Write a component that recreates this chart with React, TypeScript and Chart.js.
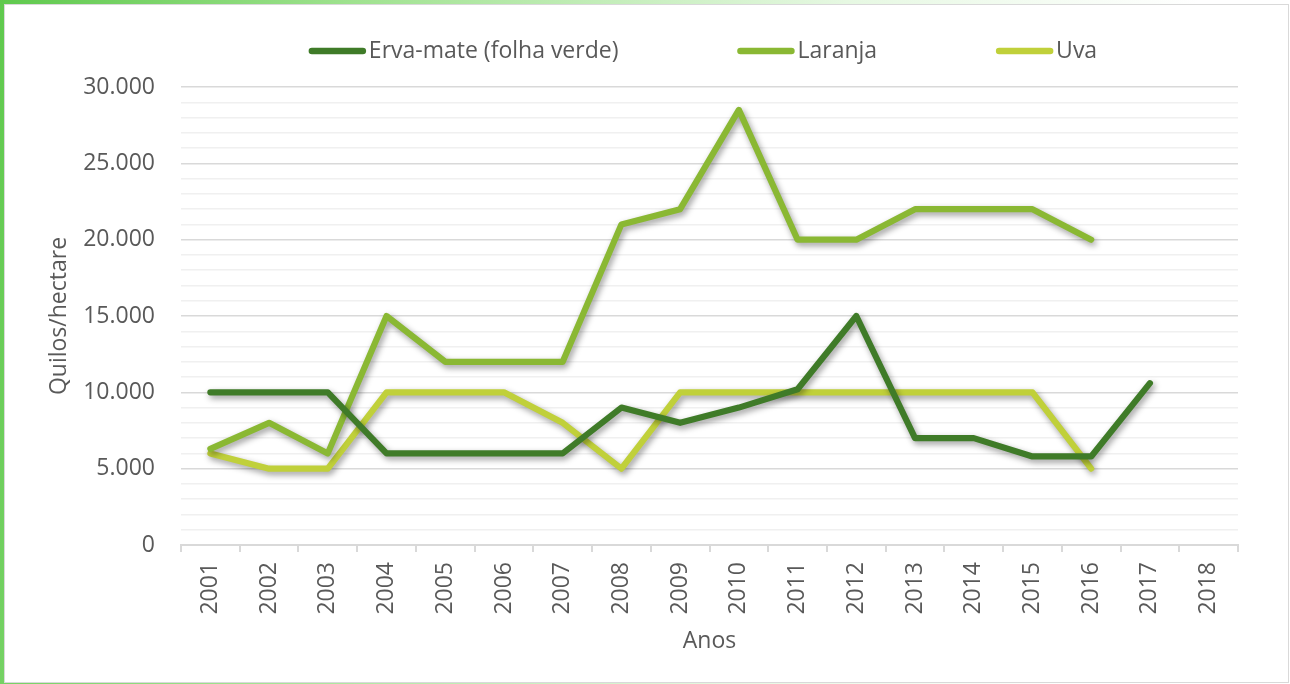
import React, { useEffect, useRef } from "react";
import { Chart, registerables } from "chart.js";

Chart.register(...registerables);

const years = ["2001", "2002", "2003", "2004", "2005", "2006", "2007", "2008", "2009", "2010", "2011", "2012", "2013", "2014", "2015", "2016", "2017", "2018"];
const ervaMate = [10000, 10000, 10000, 6000, 6000, 6000, 6000, 9000, 8000, 9000, 10200, 15000, 7000, 7000, 5800, 5800, 10600, null];
const laranja = [6300, 8000, 6000, 15000, 12000, 12000, 12000, 21000, 22000, 28500, 20000, 20000, 22000, 22000, 22000, 20000, null, null];
const uva = [6000, 5000, 5000, 10000, 10000, 10000, 8000, 5000, 10000, 10000, 10000, 10000, 10000, 10000, 10000, 5000, null, null];
const seriesNames = ["Erva-mate (folha verde)", "Laranja", "Uva"];
const seriesColors = ["#3f7b28", "#8ab833", "#c0d03a"];
const yAxisTitle = "Quilos/hectare";
const xAxisTitle = "Anos";
const yMax = 30000;
const yMajorStep = 5000;
const yMinorStep = 1000;

const FONT = '"Open Sans", sans-serif';
const TEXT_COLOR = "#595959";

function formatThousands(v: number): string {
  if (v === 0) return "0";
  return String(v).replace(/\B(?=(\d{3})+(?!\d))/g, ".");
}

const shadowPlugin = {
  id: "lineShadow",
  beforeDatasetDraw(chart: any) {
    const ctx = chart.ctx;
    ctx.save();
    ctx.shadowColor = "rgba(0,0,0,0.4)";
    ctx.shadowBlur = 6;
    ctx.shadowOffsetX = 2;
    ctx.shadowOffsetY = 3;
  },
  afterDatasetDraw(chart: any) {
    chart.ctx.restore();
  },
};

const legendPlugin = {
  id: "customLegend",
  afterDraw(chart: any) {
    const ctx = chart.ctx;
    ctx.save();
    ctx.font = `23px ${FONT}`;
    const lineLen = 57;
    const gapText = 3;
    const gapItem = 119;
    const items = chart.data.datasets.map((ds: any) => ({
      label: ds.label as string,
      color: ds.borderColor as string,
      w: lineLen + gapText + ctx.measureText(ds.label).width,
    }));
    const total = items.reduce((s: number, it: any) => s + it.w, 0) + gapItem * (items.length - 1);
    const centerX = 703;
    const y = 51;
    let x = centerX - total / 2;
    for (const it of items) {
      ctx.strokeStyle = it.color;
      ctx.lineWidth = 6.5;
      ctx.lineCap = "round";
      ctx.beginPath();
      ctx.moveTo(x + 3, y);
      ctx.lineTo(x + lineLen - 3, y);
      ctx.stroke();
      ctx.fillStyle = TEXT_COLOR;
      ctx.textAlign = "left";
      ctx.textBaseline = "middle";
      ctx.fillText(it.label, x + lineLen + gapText, y);
      x += it.w + gapItem;
    }
    ctx.restore();
  },
};

export default function App() {
  const canvasRef = useRef<HTMLCanvasElement | null>(null);

  useEffect(() => {
    document.body.style.margin = "0";
    const canvas = canvasRef.current;
    if (!canvas) return;
    const datasetsSrc = [ervaMate, laranja, uva];
    const chart = new Chart(canvas, {
      type: "line",
      data: {
        labels: years,
        datasets: datasetsSrc.map((d, i) => ({
          label: seriesNames[i],
          data: d,
          borderColor: seriesColors[i],
          backgroundColor: seriesColors[i],
          borderWidth: 6.2,
          borderCapStyle: "round",
          borderJoinStyle: "round",
          pointRadius: 0,
          pointHoverRadius: 0,
          tension: 0,
          fill: false,
          spanGaps: false,
        })),
      },
      options: {
        responsive: false,
        animation: false,
        devicePixelRatio: 1,
        layout: { padding: { left: 0, right: 52, top: 87, bottom: 0 } },
        plugins: {
          legend: { display: false },
          tooltip: { enabled: false },
          title: { display: false },
        },
        scales: {
          x: {
            type: "category",
            offset: true,
            grid: {
              offset: true,
              drawOnChartArea: false,
              drawTicks: true,
              tickLength: 7,
              color: "#d9d9d9",
              lineWidth: 2,
            },
            border: { display: true, color: "#d9d9d9", width: 2 },
            ticks: {
              maxRotation: 90,
              minRotation: 90,
              autoSkip: false,
              padding: 10,
              color: TEXT_COLOR,
              font: { family: FONT, size: 23 },
            },
            title: {
              display: true,
              text: xAxisTitle,
              color: TEXT_COLOR,
              font: { family: FONT, size: 23 },
              padding: { top: 0, bottom: 29 },
            },
            afterFit(scale: any) {
              scale.height = 139;
            },
          },
          y: {
            min: 0,
            max: yMax,
            grid: {
              drawTicks: false,
              lineWidth: 1.5,
              color: (c: any) => (c.tick && c.tick.value % yMajorStep === 0 ? "#d9d9d9" : "#f0f0f0"),
            },
            border: { display: false },
            ticks: {
              stepSize: yMinorStep,
              autoSkip: false,
              padding: 26,
              color: TEXT_COLOR,
              font: { family: FONT, size: 23 },
              callback: (v: any) => (Number(v) % yMajorStep === 0 ? formatThousands(Number(v)) : ""),
            },
            title: {
              display: true,
              text: yAxisTitle,
              color: TEXT_COLOR,
              font: { family: FONT, size: 23 },
              padding: { top: 46, bottom: 0 },
            },
            afterFit(scale: any) {
              scale.width = 181;
            },
          },
        },
      },
      plugins: [shadowPlugin, legendPlugin],
    } as any);
    return () => chart.destroy();
  }, []);

  return (
    <div
      style={{
        position: "relative",
        width: 1290,
        height: 684,
        overflow: "hidden",
        background: "linear-gradient(100deg, #5fc94d 0%, #9fe28f 25%, #e6f8e2 60%, #ffffff 85%)",
      }}
    >
      <div
        style={{
          position: "absolute",
          left: 4,
          top: 4,
          width: 1283,
          height: 677,
          background: "#ffffff",
          border: "1px solid #d9d9d9",
        }}
      />
      <canvas
        ref={canvasRef}
        width={1290}
        height={684}
        style={{ position: "absolute", left: 0, top: 0, width: 1290, height: 684 }}
      />
    </div>
  );
}
